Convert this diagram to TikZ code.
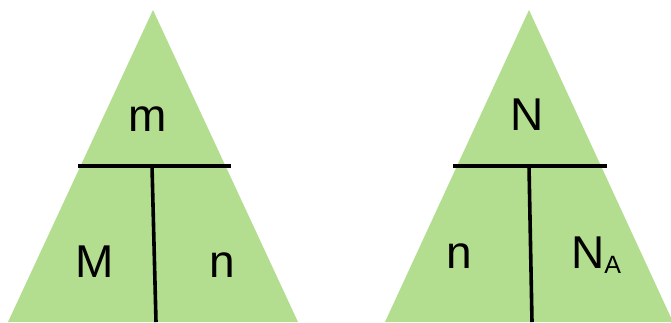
\documentclass[tikz,border=0pt]{standalone}
\usepackage{fontspec}
\setmainfont{Liberation Sans}
\usetikzlibrary{positioning}
\usepackage{xcolor}
\definecolor{trigreen}{HTML}{B3DD8F}

\begin{document}
\begin{tikzpicture}[
    x=1pt, y=-1pt,
    tri/.style={fill=trigreen, draw=none},
    bar/.style={line width=3.6pt, black},
    lbl/.style={font=\fontsize{46}{50}\selectfont, inner sep=0pt, anchor=base}
]
\useasboundingbox (0,0) rectangle (671,322);
% left triangle: m over M and n
\coordinate (lt) at (153,10);
\coordinate (ll) at (8,322);
\coordinate (lr) at (298,322);
\fill[tri] (lt) -- (lr) -- (ll) -- cycle;
\coordinate (lbarw) at (78,166);
\coordinate (lbare) at (231,166);
\coordinate (lstem) at (152,166);
\coordinate (lfoot) at (156,322);
\draw[bar] (lbarw) -- (lbare);
\draw[bar] (lstem) -- (lfoot);
\node[lbl] (mass) at (148,131) {m};
\node[lbl] (molar) at (95,277) {M};
\node[lbl] (moles) at (222,277) {n};
% right triangle: N over n and N_A
\coordinate (rt) at (529,10);
\coordinate (rl) at (385,322);
\coordinate (rr) at (673,322);
\fill[tri] (rt) -- (rr) -- (rl) -- cycle;
\coordinate (rbarw) at (453,166);
\coordinate (rbare) at (607,166);
\coordinate (rstem) at (529,166);
\coordinate (rfoot) at (532,322);
\draw[bar] (rbarw) -- (rbare);
\draw[bar] (rstem) -- (rfoot);
\node[lbl] (count) at (527,130) {N};
\node[lbl] (moles2) at (459,268) {n};
\node[lbl] (avogadro) at (596,268) {N\raisebox{-5pt}{\fontsize{25}{25}\selectfont A}};
\end{tikzpicture}
\end{document}
